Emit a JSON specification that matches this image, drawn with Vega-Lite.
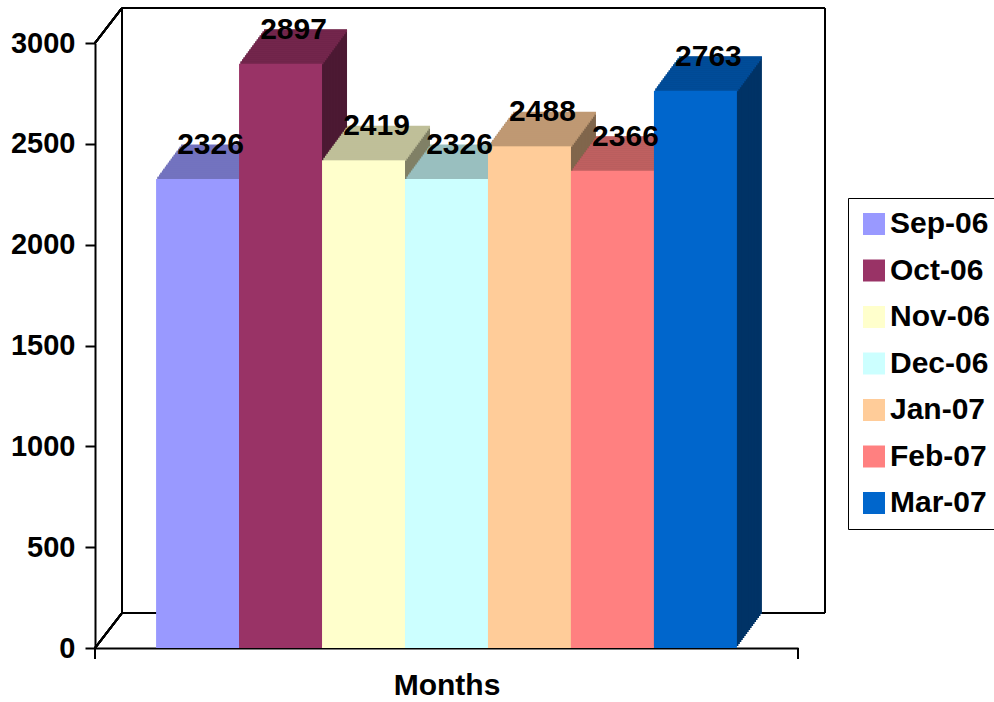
{
 "$schema": "https://vega.github.io/schema/vega-lite/v6.json",
 "width": 703, "height": 605,
 "autosize": {"type": "none"},
 "padding": {"left": 95, "top": 43, "right": 196, "bottom": 54},
 "background": "white",
 "config": {
  "view": {"stroke": null},
  "font": "Liberation Sans",
  "axis": {"domainColor": "black", "domainWidth": 2, "tickColor": "black", "tickWidth": 2, "labelFont": "Liberation Sans", "labelFontWeight": "bold", "labelColor": "black", "titleFont": "Liberation Sans", "titleFontWeight": "bold", "titleColor": "black", "grid": false}
 },
 "data": {"values": [
  {"month": "Sep-06", "value": 2326},
  {"month": "Oct-06", "value": 2897},
  {"month": "Nov-06", "value": 2419},
  {"month": "Dec-06", "value": 2326},
  {"month": "Jan-07", "value": 2488},
  {"month": "Feb-07", "value": 2366},
  {"month": "Mar-07", "value": 2763}
 ]},
 "encoding": {
  "x": {"field": "month", "type": "nominal", "sort": ["Sep-06","Oct-06","Nov-06","Dec-06","Jan-07","Feb-07","Mar-07"], "scale": {"paddingInner": 0, "paddingOuter": 0.736}, "axis": {"labels": false, "ticks": false, "title": "Months", "titleFontSize": 30, "titlePadding": 22}},
  "y": {"field": "value", "type": "quantitative", "scale": {"domain": [0, 3000], "nice": false}, "axis": {"values": [0,500,1000,1500,2000,2500,3000], "format": "d", "labelFontSize": 29, "tickSize": 10, "labelPadding": 10, "title": null}}
 },
 "layer": [
  {"mark": {"type": "rule", "strokeWidth": 2, "color": "black", "xOffset": 27, "x2Offset": 27, "yOffset": -35},
   "encoding": {"x": {"value": 0}, "x2": {"value": "width"}, "y": {"datum": 3000, "type": "quantitative"}}},
  {"mark": {"type": "rule", "strokeWidth": 2, "color": "black", "xOffset": 27, "x2Offset": 27, "yOffset": -35},
   "encoding": {"x": {"value": 0}, "x2": {"value": "width"}, "y": {"datum": 0, "type": "quantitative"}}},
  {"mark": {"type": "rule", "strokeWidth": 2, "color": "black", "xOffset": 27, "yOffset": -35, "y2Offset": -35},
   "encoding": {"x": {"value": 0}, "y": {"datum": 0, "type": "quantitative"}, "y2": {"datum": 3000}}},
  {"mark": {"type": "rule", "strokeWidth": 2, "color": "black", "xOffset": 27, "yOffset": -35, "y2Offset": -35},
   "encoding": {"x": {"value": "width"}, "y": {"datum": 0, "type": "quantitative"}, "y2": {"datum": 3000}}},
  {"mark": {"type": "rule", "strokeWidth": 2, "color": "black", "x2Offset": 27, "y2Offset": -35},
   "encoding": {"x": {"value": 0}, "x2": {"value": 0}, "y": {"datum": 0, "type": "quantitative"}, "y2": {"datum": 0}}},
  {"mark": {"type": "rule", "strokeWidth": 2, "color": "black", "x2Offset": 27, "y2Offset": -35},
   "encoding": {"x": {"value": 0}, "x2": {"value": 0}, "y": {"datum": 3000, "type": "quantitative"}, "y2": {"datum": 3000}}},
  {"mark": {"type": "rule", "strokeWidth": 2, "color": "black", "y2Offset": 11},
   "encoding": {"x": {"value": 0}, "y": {"datum": 0, "type": "quantitative"}, "y2": {"datum": 0}}},
  {"mark": {"type": "rule", "strokeWidth": 2, "color": "black", "y2Offset": 11},
   "encoding": {"x": {"value": "width"}, "y": {"datum": 0, "type": "quantitative"}, "y2": {"datum": 0}}},
  {
   "encoding": {
    "fill": {"field": "month", "type": "nominal", "scale": {"domain": ["Mar-07","Feb-07","Jan-07","Dec-06","Nov-06","Oct-06","Sep-06"], "range": ["#003366","#804040","#80664C","#668080","#808066","#4C1933","#4C4C80"]}, "legend": null},
    "stroke": {"field": "month", "type": "nominal", "scale": {"domain": ["Mar-07","Sep-06","Feb-07","Oct-06","Jan-07","Nov-06","Dec-06"], "range": ["#004C99","#7373BF","#BF6060","#73264C","#BF9973","#BFBF99","#99BFBF"]}, "legend": null}
   },
   "layer": [
    {"mark": {"type": "bar", "strokeWidth": 0, "xOffset": 25, "yOffset": -34, "y2Offset": -34}, "encoding": {"y2": {"datum": 0}}},
    {"mark": {"type": "bar", "strokeWidth": 3, "xOffset": 25, "yOffset": -33, "y2Offset": -33}, "encoding": {"y2": {"field": "value"}}},
    {"mark": {"type": "bar", "strokeWidth": 0, "xOffset": 23.53, "yOffset": -32, "y2Offset": -32}, "encoding": {"y2": {"datum": 0}}},
    {"mark": {"type": "bar", "strokeWidth": 3, "xOffset": 23.53, "yOffset": -31, "y2Offset": -31}, "encoding": {"y2": {"field": "value"}}},
    {"mark": {"type": "bar", "strokeWidth": 0, "xOffset": 22.06, "yOffset": -30, "y2Offset": -30}, "encoding": {"y2": {"datum": 0}}},
    {"mark": {"type": "bar", "strokeWidth": 3, "xOffset": 22.06, "yOffset": -29, "y2Offset": -29}, "encoding": {"y2": {"field": "value"}}},
    {"mark": {"type": "bar", "strokeWidth": 0, "xOffset": 20.59, "yOffset": -28, "y2Offset": -28}, "encoding": {"y2": {"datum": 0}}},
    {"mark": {"type": "bar", "strokeWidth": 3, "xOffset": 20.59, "yOffset": -27, "y2Offset": -27}, "encoding": {"y2": {"field": "value"}}},
    {"mark": {"type": "bar", "strokeWidth": 0, "xOffset": 19.12, "yOffset": -26, "y2Offset": -26}, "encoding": {"y2": {"datum": 0}}},
    {"mark": {"type": "bar", "strokeWidth": 3, "xOffset": 19.12, "yOffset": -25, "y2Offset": -25}, "encoding": {"y2": {"field": "value"}}},
    {"mark": {"type": "bar", "strokeWidth": 0, "xOffset": 17.65, "yOffset": -24, "y2Offset": -24}, "encoding": {"y2": {"datum": 0}}},
    {"mark": {"type": "bar", "strokeWidth": 3, "xOffset": 17.65, "yOffset": -23, "y2Offset": -23}, "encoding": {"y2": {"field": "value"}}},
    {"mark": {"type": "bar", "strokeWidth": 0, "xOffset": 16.18, "yOffset": -22, "y2Offset": -22}, "encoding": {"y2": {"datum": 0}}},
    {"mark": {"type": "bar", "strokeWidth": 3, "xOffset": 16.18, "yOffset": -21, "y2Offset": -21}, "encoding": {"y2": {"field": "value"}}},
    {"mark": {"type": "bar", "strokeWidth": 0, "xOffset": 14.71, "yOffset": -20, "y2Offset": -20}, "encoding": {"y2": {"datum": 0}}},
    {"mark": {"type": "bar", "strokeWidth": 3, "xOffset": 14.71, "yOffset": -19, "y2Offset": -19}, "encoding": {"y2": {"field": "value"}}},
    {"mark": {"type": "bar", "strokeWidth": 0, "xOffset": 13.24, "yOffset": -18, "y2Offset": -18}, "encoding": {"y2": {"datum": 0}}},
    {"mark": {"type": "bar", "strokeWidth": 3, "xOffset": 13.24, "yOffset": -17, "y2Offset": -17}, "encoding": {"y2": {"field": "value"}}},
    {"mark": {"type": "bar", "strokeWidth": 0, "xOffset": 11.76, "yOffset": -16, "y2Offset": -16}, "encoding": {"y2": {"datum": 0}}},
    {"mark": {"type": "bar", "strokeWidth": 3, "xOffset": 11.76, "yOffset": -15, "y2Offset": -15}, "encoding": {"y2": {"field": "value"}}},
    {"mark": {"type": "bar", "strokeWidth": 0, "xOffset": 10.29, "yOffset": -14, "y2Offset": -14}, "encoding": {"y2": {"datum": 0}}},
    {"mark": {"type": "bar", "strokeWidth": 3, "xOffset": 10.29, "yOffset": -13, "y2Offset": -13}, "encoding": {"y2": {"field": "value"}}},
    {"mark": {"type": "bar", "strokeWidth": 0, "xOffset": 8.82, "yOffset": -12, "y2Offset": -12}, "encoding": {"y2": {"datum": 0}}},
    {"mark": {"type": "bar", "strokeWidth": 3, "xOffset": 8.82, "yOffset": -11, "y2Offset": -11}, "encoding": {"y2": {"field": "value"}}},
    {"mark": {"type": "bar", "strokeWidth": 0, "xOffset": 7.35, "yOffset": -10, "y2Offset": -10}, "encoding": {"y2": {"datum": 0}}},
    {"mark": {"type": "bar", "strokeWidth": 3, "xOffset": 7.35, "yOffset": -9, "y2Offset": -9}, "encoding": {"y2": {"field": "value"}}},
    {"mark": {"type": "bar", "strokeWidth": 0, "xOffset": 5.88, "yOffset": -8, "y2Offset": -8}, "encoding": {"y2": {"datum": 0}}},
    {"mark": {"type": "bar", "strokeWidth": 3, "xOffset": 5.88, "yOffset": -7, "y2Offset": -7}, "encoding": {"y2": {"field": "value"}}},
    {"mark": {"type": "bar", "strokeWidth": 0, "xOffset": 4.41, "yOffset": -6, "y2Offset": -6}, "encoding": {"y2": {"datum": 0}}},
    {"mark": {"type": "bar", "strokeWidth": 3, "xOffset": 4.41, "yOffset": -5, "y2Offset": -5}, "encoding": {"y2": {"field": "value"}}},
    {"mark": {"type": "bar", "strokeWidth": 0, "xOffset": 2.94, "yOffset": -4, "y2Offset": -4}, "encoding": {"y2": {"datum": 0}}},
    {"mark": {"type": "bar", "strokeWidth": 3, "xOffset": 2.94, "yOffset": -3, "y2Offset": -3}, "encoding": {"y2": {"field": "value"}}},
    {"mark": {"type": "bar", "strokeWidth": 0, "xOffset": 1.47, "yOffset": -2, "y2Offset": -2}, "encoding": {"y2": {"datum": 0}}},
    {"mark": {"type": "bar", "strokeWidth": 3, "xOffset": 1.47, "yOffset": -1, "y2Offset": -1}, "encoding": {"y2": {"field": "value"}}}
   ]
  },
  {"mark": {"type": "bar"},
   "encoding": {"color": {"field": "month", "type": "nominal", "scale": {"domain": ["Sep-06","Oct-06","Nov-06","Dec-06","Jan-07","Feb-07","Mar-07"], "range": ["#9999FF","#993366","#FFFFCC","#CCFFFF","#FFCC99","#FF8080","#0066CC"]},
    "legend": {"title": null, "orient": "none", "legendX": 753, "legendY": 155, "strokeColor": "black", "fillColor": "white", "padding": 11, "symbolType": "square", "symbolSize": 484, "symbolStrokeWidth": 0, "symbolOpacity": 1, "labelFontSize": 30, "labelFont": "Liberation Sans", "labelFontWeight": "bold", "labelColor": "black", "rowPadding": 16.5, "labelOffset": 1}}}},
  {"mark": {"type": "text", "fontSize": 30, "fontWeight": "bold", "font": "Liberation Sans", "dx": 13, "dy": -34, "baseline": "middle", "align": "center", "color": "black"},
   "encoding": {"text": {"field": "value", "type": "quantitative"}}}
 ]
}
